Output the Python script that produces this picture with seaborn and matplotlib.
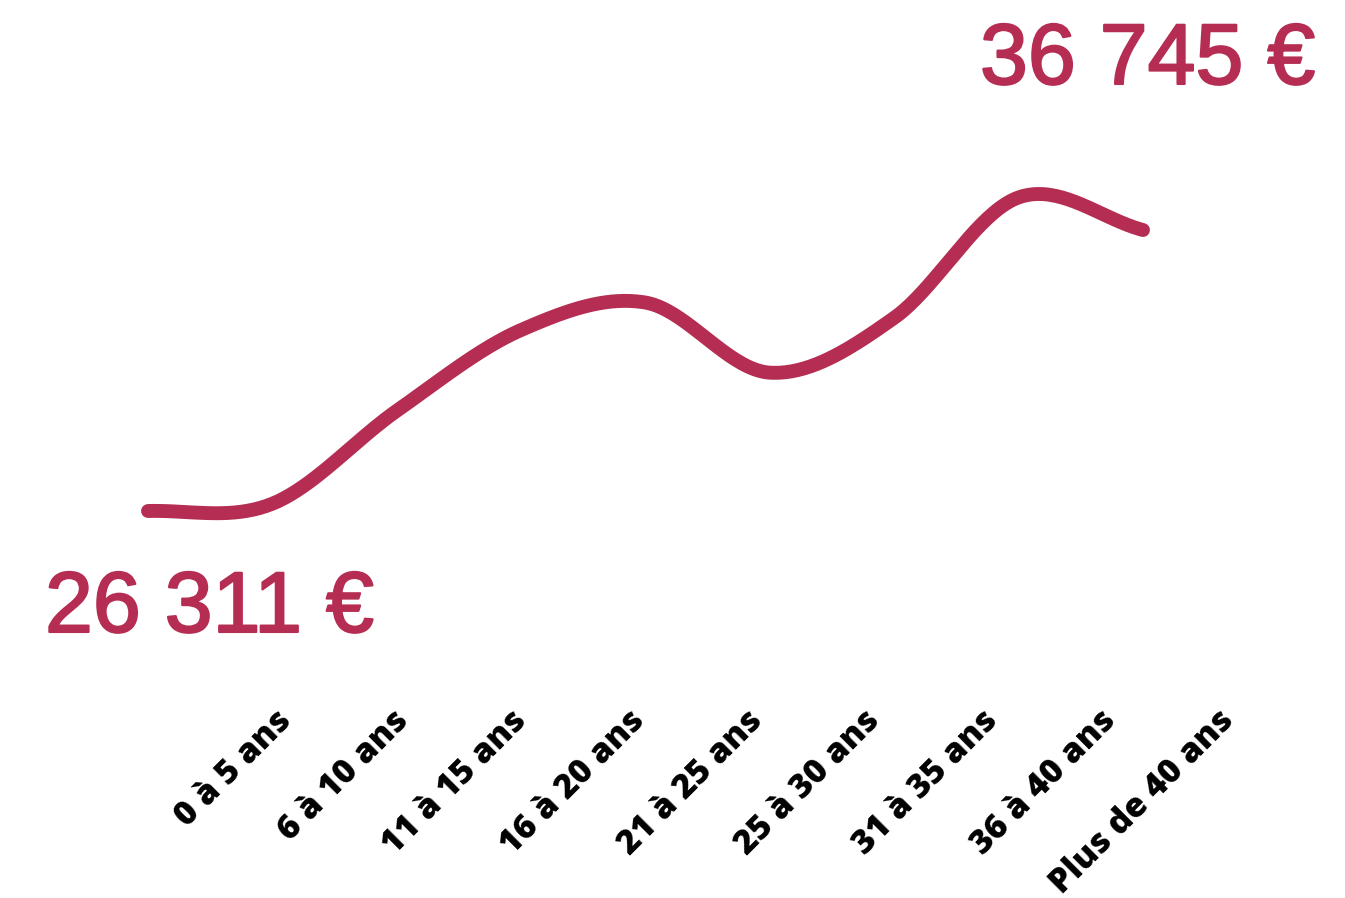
import numpy as np
import pandas as pd
import matplotlib
matplotlib.use('Agg')
import matplotlib.pyplot as plt
import matplotlib.patheffects as pe
import seaborn as sns

categories = ['0 à 5 ans', '6 à 10 ans', '11 à 15 ans', '16 à 20 ans', '21 à 25 ans',
              '25 à 30 ans', '31 à 35 ans', '36 à 40 ans', 'Plus de 40 ans']
salaries = [26311, 26550, 29600, 32250, 33150, 30850, 32650, 36600, 35530]
label_min = '26 311 €'
label_max = '36 745 €'

color = '#B52D52'

sns.set_theme(style='white')
plt.rcParams['font.family'] = ['Liberation Sans', 'DejaVu Sans']


def catmull_rom(x, y, n=40):
    # smooth curve through the points (drawing only)
    px = np.concatenate([[2 * x[0] - x[1]], x, [2 * x[-1] - x[-2]]])
    py = np.concatenate([[y[0]], y, [2 * y[-1] - y[-2]]])
    xs, ys = [], []
    t = np.linspace(0, 1, n, endpoint=False)
    for i in range(1, len(px) - 2):
        for p, out in ((px, xs), (py, ys)):
            p0, p1, p2, p3 = p[i - 1], p[i], p[i + 1], p[i + 2]
            out.extend(0.5 * (2 * p1 + (-p0 + p2) * t + (2 * p0 - 5 * p1 + 4 * p2 - p3) * t ** 2
                              + (-p0 + 3 * p1 - 3 * p2 + p3) * t ** 3))
    xs.append(x[-1])
    ys.append(y[-1])
    return np.array(xs), np.array(ys)


xpos = np.arange(len(categories), dtype=float)
sx, sy = catmull_rom(xpos, np.array(salaries, dtype=float))
df = pd.DataFrame({'x': sx, 'salaire': sy})

fig = plt.figure(figsize=(13.45, 8.98), dpi=100)
bottom = 196 / 898
ax = fig.add_axes([0, bottom, 1, 1 - bottom])

sns.lineplot(data=df, x='x', y='salaire', ax=ax, color=color, linewidth=10,
             solid_capstyle='round', sort=False)

# line spans 148px..1143px horizontally
ux = (1143 - 148) / 8
ax.set_xlim(-148 / ux, (1345 - 148) / ux)
# 26311 at y=511px, 36745 at y=193px (from top)
uy = (36745 - 26311) / (511 - 193)
bot_px = 898 - 196
ax.set_ylim(26311 - (bot_px - 511) * uy, 26311 + 511 * uy)
ax.set_axis_off()

# category labels on a second axis with its own spacing
ax2 = fig.add_axes([0, bottom, 1, 1 - bottom], facecolor='none')
lx = 117.8
ax2.set_xlim(-298 / lx, (1345 - 298) / lx)
ax2.set_xticks(xpos)
ax2.set_xticklabels(categories, rotation=45, ha='right', va='top', color='black',
                    fontsize=24.5, fontweight='heavy', family=['Open Sans', 'DejaVu Sans'])
ax2.tick_params(axis='x', length=0, pad=1)
ax2.set_yticks([])
for s in ax2.spines.values():
    s.set_visible(False)

halo = [pe.withStroke(linewidth=1.5, foreground=color)]
fig.text(45 / 1345, 1 - 632 / 898, label_min, color=color, fontsize=62,
         ha='left', va='baseline', path_effects=halo)
fig.text(1315 / 1345, 1 - 84 / 898, label_max, color=color, fontsize=62,
         ha='right', va='baseline', path_effects=halo)

fig.savefig('out.png', dpi=100)
